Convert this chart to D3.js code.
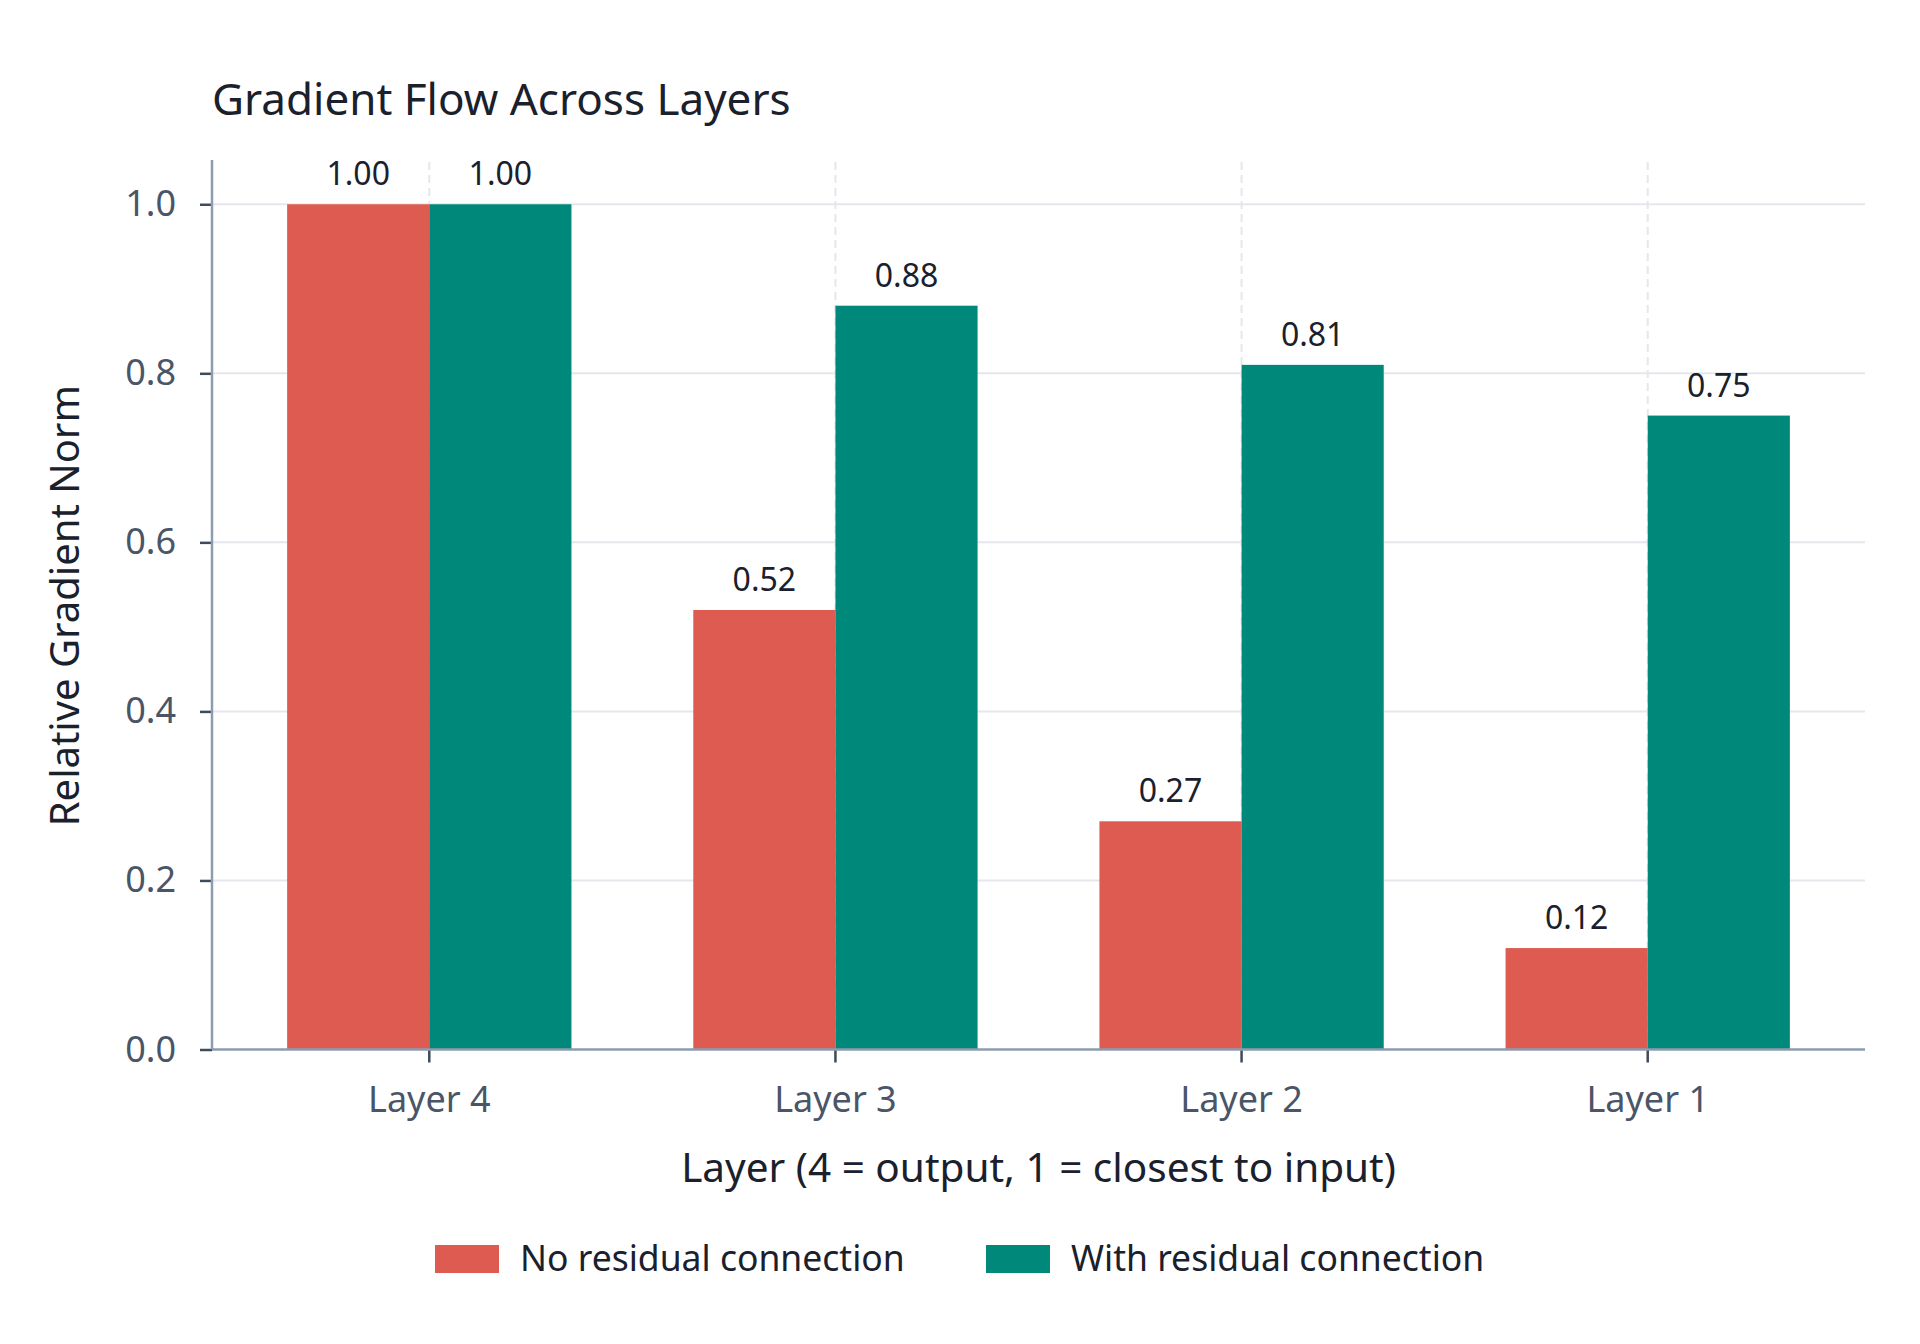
<!DOCTYPE html>
<html>
<head>
<meta charset="utf-8">
<script src="https://cdn.jsdelivr.net/npm/d3@7"></script>
<style>
  html, body { margin: 0; padding: 0; background: #ffffff; }
  svg { display: block; font-family: 'Noto Sans', sans-serif; }
</style>
</head>
<body>
<svg id="chart" width="1920" height="1344"></svg>
<script>
'use strict';

var layers = ['Layer 4', 'Layer 3', 'Layer 2', 'Layer 1'];
var seriesNames = ['No residual connection', 'With residual connection'];
var noResidual = [1.00, 0.52, 0.27, 0.12];
var withResidual = [1.00, 0.88, 0.81, 0.75];
var yTicks = [0, 0.2, 0.4, 0.6, 0.8, 1.0];
var colors = ['#dd5b50', '#00897b'];

var plotLeft = 212, plotRight = 1865, plotTop = 162, plotBottom = 1049.5;

var svg = d3.select('#chart');

var x0 = d3.scaleBand()
  .domain(layers)
  .range([plotLeft, plotRight])
  .paddingInner(0.3)
  .paddingOuter(0.185);

var x1 = d3.scaleBand()
  .domain(seriesNames)
  .range([0, x0.bandwidth()]);

var y = d3.scaleLinear()
  .domain([0, 1.05])
  .range([plotBottom, plotTop]);

var rows = layers.map(function (l, i) {
  return { layer: l, values: [noResidual[i], withResidual[i]] };
});

// grid
svg.append('g')
  .selectAll('line')
  .data(yTicks.slice(1))
  .enter()
  .append('line')
  .attr('x1', plotLeft)
  .attr('x2', plotRight)
  .attr('y1', function (d) { return y(d); })
  .attr('y2', function (d) { return y(d); })
  .attr('stroke', '#e4e7ec')
  .attr('stroke-width', 2);

svg.append('g')
  .selectAll('line')
  .data(layers)
  .enter()
  .append('line')
  .attr('x1', function (d) { return x0(d) + x0.bandwidth() / 2; })
  .attr('x2', function (d) { return x0(d) + x0.bandwidth() / 2; })
  .attr('y1', plotTop)
  .attr('y2', plotBottom)
  .attr('stroke', '#e4e7ec')
  .attr('stroke-width', 2)
  .attr('stroke-dasharray', '8,5');

// bars
var groups = svg.append('g')
  .selectAll('g')
  .data(rows)
  .enter()
  .append('g')
  .attr('transform', function (d) { return 'translate(' + x0(d.layer) + ',0)'; });

groups.selectAll('rect')
  .data(function (d) { return d.values; })
  .enter()
  .append('rect')
  .attr('x', function (d, i) { return x1(seriesNames[i]); })
  .attr('y', function (d) { return y(d); })
  .attr('width', x1.bandwidth())
  .attr('height', function (d) { return plotBottom - y(d); })
  .attr('fill', function (d, i) { return colors[i]; });

groups.selectAll('text')
  .data(function (d) { return d.values; })
  .enter()
  .append('text')
  .attr('x', function (d, i) { return x1(seriesNames[i]) + x1.bandwidth() / 2; })
  .attr('y', function (d) { return y(d) - 19; })
  .attr('text-anchor', 'middle')
  .attr('font-size', 32)
  .attr('fill', '#1a202c')
  .text(function (d) { return d.toFixed(2); });

// axes
var yAxis = svg.append('g')
  .attr('transform', 'translate(' + plotLeft + ',0)')
  .call(d3.axisLeft(y).tickValues(yTicks).tickFormat(d3.format('.1f')).tickSize(12).tickPadding(24));

var xAxis = svg.append('g')
  .attr('transform', 'translate(0,' + plotBottom + ')')
  .call(d3.axisBottom(x0).tickSize(13).tickPadding(24));

[yAxis, xAxis].forEach(function (ax) {
  ax.select('.domain').remove();
  ax.selectAll('.tick line').attr('stroke', '#3f4a5a').attr('stroke-width', 2.5);
  ax.selectAll('.tick text')
    .attr('fill', '#4a5568')
    .attr('font-size', 36)
    .attr('font-family', "'Noto Sans', sans-serif");
});
xAxis.selectAll('.tick text').attr('dy', '0.71em');

svg.append('line')
  .attr('x1', plotLeft).attr('x2', plotLeft)
  .attr('y1', plotTop - 2).attr('y2', plotBottom)
  .attr('stroke', '#8e9cb0')
  .attr('stroke-width', 2.5);

svg.append('line')
  .attr('x1', plotLeft).attr('x2', plotRight)
  .attr('y1', plotBottom).attr('y2', plotBottom)
  .attr('stroke', '#8e9cb0')
  .attr('stroke-width', 2.5);

// titles
svg.append('text')
  .attr('x', 212)
  .attr('y', 115)
  .attr('font-size', 44)
  .attr('fill', '#1a202c')
  .text('Gradient Flow Across Layers');

svg.append('text')
  .attr('x', (plotLeft + plotRight) / 2)
  .attr('y', 1182)
  .attr('text-anchor', 'middle')
  .attr('font-size', 40.5)
  .attr('fill', '#1a202c')
  .text('Layer (4 = output, 1 = closest to input)');

svg.append('text')
  .attr('transform', 'translate(79,' + ((plotTop + plotBottom) / 2) + ') rotate(-90)')
  .attr('text-anchor', 'middle')
  .attr('font-size', 40)
  .attr('fill', '#1a202c')
  .text('Relative Gradient Norm');

// legend
var legendX = [435, 986];
var legend = svg.append('g')
  .selectAll('g')
  .data(seriesNames)
  .enter()
  .append('g')
  .attr('transform', function (d, i) { return 'translate(' + legendX[i] + ',1245)'; });

legend.append('rect')
  .attr('width', 64)
  .attr('height', 28)
  .attr('fill', function (d, i) { return colors[i]; });

legend.append('text')
  .attr('x', 85)
  .attr('y', 26)
  .attr('font-size', 35.5)
  .attr('fill', '#1a202c')
  .text(function (d) { return d; });
</script>
</body>
</html>
